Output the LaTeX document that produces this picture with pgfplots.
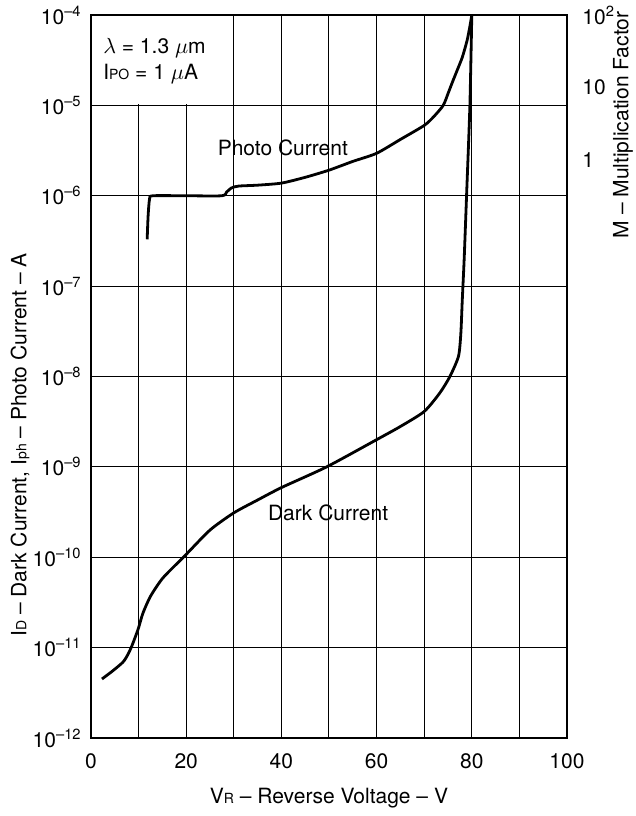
\documentclass[border=0pt]{standalone}
\usepackage{pgfplots}
\pgfplotsset{compat=1.18}
\usepackage{fontspec}
\setmainfont{TeX Gyre Heros}
\newcommand{\ex}[1]{10\textsuperscript{\textendash#1}}
\newcommand{\fs}{\fontsize{10.5}{12.5}\selectfont}
\begin{document}
\fs
\begin{tikzpicture}
\path[use as bounding box] (-45.5pt,-39pt) rectangle (272.5pt,369pt);
\begin{axis}[
  at={(0,0)}, anchor=south west,
  scale only axis, width=238pt, height=361.5pt,
  xmin=0, xmax=100, ymode=log, ymin=1e-12, ymax=1e-4,
  xtick={0,10,...,100}, xticklabels={0,,20,,40,,60,,80,,100},
  ytick={1e-12,1e-11,1e-10,1e-9,1e-8,1e-7,1e-6,1e-5,1e-4},
  yticklabels={\ex{12},\ex{11},\ex{10},\ex{9},\ex{8},\ex{7},\ex{6},\ex{5},\ex{4}},
  yminorticks=false, xminorticks=false,
  grid=major,
  major grid style={black, line width=0.5pt},
  major tick length=0pt, minor tick length=0pt,
  axis line style={line width=1pt},
  tick label style={font=\fs},
  xticklabel style={yshift=-4pt},
  yticklabel style={xshift=-1pt},
  clip=false,
]
\fill[white] (axis cs:0.3,1.03e-5) rectangle (axis cs:29.7,0.97e-4);
\addplot[black, line width=1.4pt, smooth, tension=0.4] coordinates {
(11.8,3.3e-7) (12.0,6e-7) (12.3,9.2e-7) (13,1.0e-6) (20,1.0e-6) (27.5,1.0e-6)
(28.5,1.1e-6) (29.5,1.22e-6) (31,1.28e-6) (35,1.31e-6) (40,1.38e-6) (45,1.6e-6)
(50,1.92e-6) (55,2.4e-6) (60,2.95e-6) (65,4.2e-6) (70,6.0e-6) (72,7.5e-6)
(74,1.0e-5) (75,1.35e-5) (76,1.85e-5) (77,2.5e-5) (78,3.4e-5) (79,5.2e-5) (79.6,7.5e-5) (80,1e-4)
};
\addplot[black, line width=1.4pt, smooth, tension=0.4] coordinates {
(2.3,4.5e-12) (4.5,5.5e-12) (6.7,6.9e-12) (7.7,8.3e-12) (8.6,1.05e-11) (9.9,1.6e-11)
(10.9,2.4e-11) (12.5,3.7e-11) (15.1,5.9e-11) (19.8,1.05e-10) (25,2.0e-10)
(30,3.1e-10) (35,4.3e-10) (40,5.9e-10) (49.5,1.0e-9) (60,2.0e-9) (65,2.8e-9)
(70,4.1e-9) (73.3,6.6e-9) (75.4,1.0e-8) (77.2,1.67e-8) (77.7,3e-8) (78.0,7e-8)
(78.4,2e-7) (78.9,1.0e-6) (79.6,1.0e-5) (80,1e-4)
};
\node at (axis cs:40.3,3.4e-6) {Photo Current};
\node at (axis cs:49.8,3.1e-10) {Dark Current};
\node[anchor=west, inner sep=0pt] at (axis cs:2.5,4.3e-5) {$\lambda$ = 1.3 $\mu$m};
\node[anchor=west, inner sep=0pt] at (axis cs:2.5,2.2e-5) {I{\scriptsize PO} = 1 $\mu$A};
\end{axis}
\begin{axis}[
  at={(0,0)}, anchor=south west,
  scale only axis, width=238pt, height=361.5pt,
  xmin=0, xmax=100, ymode=log, ymin=1e-8, ymax=1e2,
  axis x line=none, axis y line*=right,
  ytick={1,10,100}, yticklabels={1,10,10\textsuperscript{2}},
  yminorticks=false,
  major tick length=0pt,
  axis line style={line width=1pt},
  yticklabel style={anchor=west, xshift=4pt, font=\fs},
]
\end{axis}
\node[rotate=90] at (-35.5pt,146.5pt) {I{\scriptsize D} -- Dark Current, I{\scriptsize ph} -- Photo Current -- A};
\node[rotate=90] at (266pt,306.5pt) {M -- Multiplication Factor};
\node at (119pt,-30pt) {V{\scriptsize R} -- Reverse Voltage -- V};
\end{tikzpicture}
\end{document}
